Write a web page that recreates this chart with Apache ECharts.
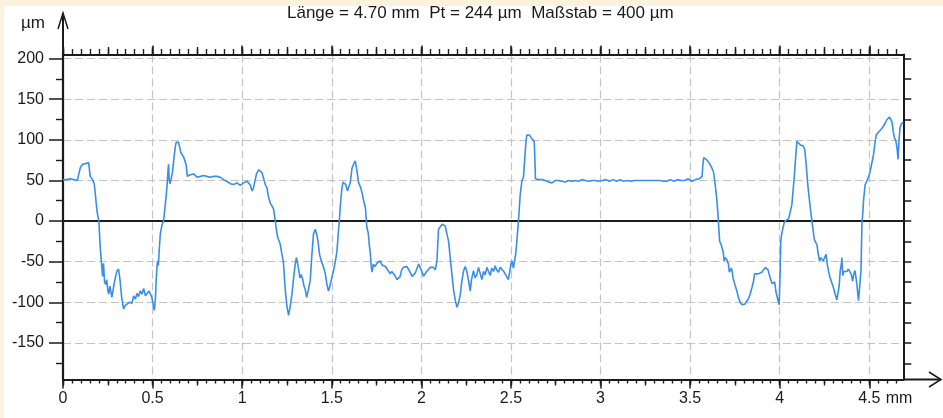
<!DOCTYPE html>
<html>
<head>
<meta charset="utf-8">
<title>Profil</title>
<script src="https://cdn.jsdelivr.net/npm/echarts@6/dist/echarts.min.js"></script>
<style>
  html, body { margin: 0; padding: 0; background: #ffffff; }
  #chart { width: 943px; height: 418px; }
</style>
</head>
<body>
<div id="chart"></div>
<script>
// Header and axis values
const titleText = 'Länge = 4.70 mm  Pt = 244 µm  Maßstab = 400 µm';
const xMax = 4.69;             // traced length shown, mm
const yMin = -195, yMax = 205; // 400 µm scale window
const xLabelTicks = [0, 0.5, 1, 1.5, 2, 2.5, 3, 3.5, 4, 4.5];
const yLabelTicks = [-150, -100, -50, 0, 50, 100, 150, 200];

// Surface profile, [position mm, height µm]
const profileA = [
  [0,51],[0.02,51],[0.04,52],[0.06,51],[0.08,50],[0.088,49],[0.097,66],[0.11,70],[0.13,71],[0.143,72],
  [0.152,55],[0.165,51],[0.175,45],[0.19,12],[0.2,0],[0.208,-33],[0.216,-55],[0.221,-68],[0.226,-52],[0.232,-75],
  [0.238,-78],[0.244,-72],[0.25,-85],[0.255,-90],[0.262,-80],[0.268,-88],[0.273,-94],[0.283,-80],[0.292,-70],[0.3,-62],
  [0.31,-59],[0.318,-72],[0.328,-95],[0.338,-108],[0.347,-104],[0.357,-102],[0.37,-100],[0.385,-101],[0.394,-92],[0.404,-96],
  [0.413,-89],[0.422,-93],[0.431,-86],[0.44,-90],[0.45,-83],[0.46,-92],[0.47,-90],[0.48,-86],[0.487,-88],[0.496,-94],
  [0.504,-104],[0.51,-110],[0.516,-95],[0.52,-73],[0.525,-55],[0.528,-49],[0.532,-55],[0.536,-40],[0.543,-16],[0.552,-5],
  [0.561,0],[0.571,20],[0.58,41],[0.586,62],[0.589,70],[0.593,50],[0.598,46],[0.604,45],[0.611,60],[0.618,75],
  [0.627,92],[0.632,97],[0.636,99],[0.645,97],[0.652,90],[0.658,84],[0.666,82],[0.673,79],[0.681,74],[0.688,68],
  [0.694,55],[0.7,53],[0.71,57],[0.72,58],[0.729,58],[0.738,56],[0.748,54],[0.758,52],[0.767,55],[0.776,54],
  [0.785,56],[0.794,58],[0.803,55],[0.812,53],[0.822,54],[0.831,53],[0.84,55],[0.85,56],[0.86,55],[0.868,57],
  [0.877,54],[0.886,52],[0.896,51],[0.905,50],[0.914,49],[0.924,48],[0.934,46],[0.943,44],[0.952,45],[0.962,45],
  [0.971,47],[0.98,46],[0.99,44]
];
const profileB = [
  [1.0,46],[1.008,47],[1.018,48],[1.028,49],[1.036,49],[1.046,44],[1.055,37],[1.062,40],[1.07,48],[1.08,58],
  [1.092,63],[1.102,62],[1.11,60],[1.12,52],[1.129,45],[1.138,41],[1.147,30],[1.157,22],[1.165,19],[1.175,15],
  [1.185,0],[1.192,-12],[1.198,-20],[1.205,-22],[1.212,-28],[1.222,-41],[1.23,-50],[1.241,-86],[1.25,-105],[1.259,-116],
  [1.266,-108],[1.278,-90],[1.287,-70],[1.296,-53],[1.303,-45],[1.309,-43],[1.316,-60],[1.322,-70],[1.33,-66],[1.338,-72],
  [1.345,-80],[1.352,-84],[1.36,-94],[1.365,-92],[1.372,-82],[1.38,-73],[1.388,-45],[1.398,-16],[1.408,-10],[1.418,-18],
  [1.425,-28],[1.432,-41],[1.44,-48],[1.448,-53],[1.456,-58],[1.464,-65],[1.473,-78],[1.482,-86],[1.49,-80],[1.5,-70],
  [1.51,-61],[1.52,-50],[1.529,-37],[1.535,-20],[1.542,0],[1.55,25],[1.557,41],[1.563,48],[1.57,50],[1.578,45],
  [1.588,37],[1.595,42],[1.603,47],[1.613,65],[1.622,70],[1.631,74],[1.636,68],[1.642,60],[1.65,47],[1.66,42],
  [1.669,35],[1.678,25],[1.688,16],[1.696,-8],[1.704,-15],[1.71,-30],[1.716,-41],[1.72,-55],[1.725,-63],[1.732,-53],
  [1.74,-56],[1.748,-54],[1.756,-51],[1.764,-53],[1.771,-49],[1.78,-54],[1.79,-53],[1.8,-56],[1.81,-55],[1.818,-62],
  [1.826,-65],[1.835,-62],[1.845,-63],[1.855,-68],[1.864,-72],[1.873,-74],[1.882,-68],[1.89,-60],[1.9,-57],[1.91,-58],
  [1.92,-56],[1.93,-60],[1.94,-64],[1.948,-68],[1.957,-70],[1.966,-64],[1.976,-58],[1.985,-53],[1.995,-51]
];
const profileC = [
  [2.003,-62],[2.012,-68],[2.02,-66],[2.03,-62],[2.04,-60],[2.05,-57],[2.058,-56],[2.068,-57],[2.078,-60],[2.087,-49],
  [2.096,-10],[2.106,-8],[2.116,-4],[2.124,-5],[2.133,-6],[2.143,-8],[2.152,-25],[2.161,-45],[2.17,-64],[2.18,-85],
  [2.19,-98],[2.199,-106],[2.208,-100],[2.218,-90],[2.226,-74],[2.236,-61],[2.245,-56],[2.254,-62],[2.264,-74],[2.273,-86],
  [2.28,-72],[2.291,-61],[2.3,-70],[2.31,-66],[2.319,-57],[2.329,-58],[2.338,-72],[2.347,-62],[2.356,-66],[2.366,-57],
  [2.375,-62],[2.384,-67],[2.393,-58],[2.403,-62],[2.412,-55],[2.42,-60],[2.43,-63],[2.44,-57],[2.45,-55],[2.46,-62],
  [2.47,-66],[2.478,-68],[2.486,-72],[2.492,-64],[2.5,-53],[2.506,-49],[2.514,-58],[2.52,-60],[2.527,-40],[2.533,-25],
  [2.542,0],[2.552,33],[2.561,49],[2.57,54],[2.575,70],[2.58,86],[2.585,100],[2.589,106],[2.595,108],[2.603,106],
  [2.612,103],[2.622,101],[2.63,98],[2.634,75],[2.637,52],[2.645,51],[2.655,51],[2.663,52],[2.672,51],[2.682,50],
  [2.692,50],[2.7,49],[2.71,48],[2.72,48],[2.729,47],[2.738,48],[2.748,50],[2.757,51],[2.766,50],[2.775,49],
  [2.784,49],[2.794,50],[2.803,48],[2.812,49],[2.822,50],[2.831,51],[2.84,49],[2.85,49],[2.86,50],[2.868,51],
  [2.878,49],[2.887,50],[2.896,51],[2.906,49],[2.915,50],[2.924,50],[2.934,49],[2.943,51],[2.952,50],[2.962,49],
  [2.971,50],[2.98,51],[2.99,49]
];
const profileD = [
  [3.0,50],[3.01,50],[3.02,49],[3.03,51],[3.04,50],[3.05,49],[3.06,50],[3.07,51],[3.08,50],[3.09,49],
  [3.1,50],[3.11,51],[3.12,50],[3.13,49],[3.14,50],[3.15,50],[3.16,51],[3.17,49],[3.18,50],[3.19,50],
  [3.2,49],[3.21,50],[3.22,51],[3.23,50],[3.24,49],[3.25,50],[3.26,51],[3.27,50],[3.28,49],[3.29,50],
  [3.3,51],[3.31,50],[3.32,49],[3.33,50],[3.34,50],[3.35,49],[3.36,48],[3.37,49],[3.38,50],[3.39,51],
  [3.4,50],[3.41,49],[3.42,50],[3.43,51],[3.44,52],[3.45,50],[3.46,49],[3.47,50],[3.48,51],[3.49,52],
  [3.5,51],[3.51,49],[3.52,50],[3.53,51],[3.54,51],[3.55,52],[3.56,50],[3.567,55],[3.571,68],[3.576,78],
  [3.582,77],[3.59,76],[3.598,74],[3.605,72],[3.612,70],[3.62,66],[3.63,61],[3.636,52],[3.64,45],[3.645,35],
  [3.65,25],[3.655,10],[3.658,0],[3.662,-15],[3.665,-25],[3.672,-28],[3.68,-30],[3.685,-38],[3.69,-49],[3.695,-45],
  [3.7,-43],[3.706,-48],[3.714,-53],[3.719,-63],[3.724,-65],[3.73,-58],[3.735,-62],[3.74,-70],[3.75,-78],[3.761,-86],
  [3.77,-94],[3.779,-100],[3.79,-103],[3.798,-104],[3.806,-102],[3.815,-100],[3.825,-96],[3.835,-90],[3.845,-82],[3.854,-74],
  [3.86,-65],[3.87,-67],[3.88,-65],[3.89,-66],[3.9,-63],[3.91,-61],[3.92,-57],[3.928,-55],[3.935,-60],[3.942,-66],
  [3.95,-72],[3.958,-77],[3.966,-78],[3.972,-75],[3.98,-88],[3.988,-95],[3.997,-103]
];
const profileE = [
  [4.003,-60],[4.006,-25],[4.012,-15],[4.017,-10],[4.024,-3],[4.03,0],[4.04,2],[4.05,3],[4.059,4],[4.068,20],
  [4.075,38],[4.081,53],[4.088,75],[4.096,98],[4.105,96],[4.114,94],[4.124,93],[4.133,92],[4.14,88],[4.148,70],
  [4.155,49],[4.163,32],[4.171,16],[4.18,0],[4.187,-12],[4.193,-22],[4.2,-26],[4.208,-29],[4.215,-40],[4.222,-49],
  [4.229,-45],[4.236,-43],[4.243,-49],[4.25,-47],[4.259,-41],[4.265,-52],[4.273,-62],[4.282,-70],[4.291,-76],[4.3,-82],
  [4.31,-90],[4.319,-97],[4.326,-98],[4.332,-80],[4.338,-61],[4.343,-55],[4.347,-45],[4.352,-67],[4.358,-62],[4.366,-60],
  [4.375,-62],[4.384,-59],[4.393,-60],[4.4,-66],[4.407,-74],[4.414,-65],[4.42,-61],[4.425,-68],[4.431,-78],[4.436,-90],
  [4.44,-98],[4.449,-100],[4.454,-60],[4.459,-4],[4.464,10],[4.468,25],[4.477,45],[4.484,48],[4.49,49],[4.497,55],
  [4.505,61],[4.515,72],[4.524,82],[4.531,95],[4.539,106],[4.55,109],[4.561,111],[4.57,114],[4.58,117],[4.59,121],
  [4.599,125],[4.606,127],[4.613,128],[4.62,126],[4.627,122],[4.634,110],[4.641,102],[4.648,99],[4.655,90],[4.661,76],
  [4.666,100],[4.672,115],[4.68,120],[4.69,121]
];

const profile = [].concat(profileA, profileB, profileC, profileD, profileE);

// Tick positions for the graduated frame
function steps(from, to, step) {
  const out = [];
  const n = Math.round((to - from) / step);
  for (let i = 0; i <= n; i++) out.push(+(from + i * step).toFixed(3));
  return out;
}
const xQuarterTicks = steps(0, 4.5, 0.25);
const xFineTicks = steps(0, 4.65, 0.05);
const yHalfTicks = steps(-175, 175, 50);
const yRightTicks = steps(-175, 200, 25);

const ink = '#1b1b1b';
const font = 'Liberation Sans, Arial, Helvetica, sans-serif';
const gridBox = { left: 63, right: 39.7, top: 54.5, bottom: 38.5 };

function tickOnlyX(gridIndex, position, values, length) {
  return {
    type: 'value', gridIndex, position, min: 0, max: xMax,
    axisLine: { show: false, onZero: false },
    axisTick: { show: true, customValues: values, length, lineStyle: { color: ink, width: 1.4 } },
    axisLabel: { show: false },
    splitLine: { show: false }
  };
}
function tickOnlyY(gridIndex, position, values, length) {
  return {
    type: 'value', gridIndex, position, min: yMin, max: yMax,
    axisLine: { show: false, onZero: false },
    axisTick: { show: values.length > 0, customValues: values, length, lineStyle: { color: ink, width: 1.4 } },
    axisLabel: { show: false },
    splitLine: { show: false }
  };
}

const dashed = { color: '#c4c4c4', width: 1.2, type: [8, 4] };

const option = {
  animation: false,
  backgroundColor: '#ffffff',
  title: {
    text: titleText,
    left: 287, top: 4.5, padding: 0,
    textStyle: { fontFamily: font, fontSize: 17, fontWeight: 'normal', color: ink }
  },
  grid: [
    Object.assign({}, gridBox),
    Object.assign({}, gridBox),
    Object.assign({}, gridBox)
  ],
  xAxis: [
    {
      type: 'value', gridIndex: 0, position: 'bottom', min: 0, max: xMax,
      axisLine: { show: true, onZero: false, lineStyle: { color: ink, width: 2 } },
      axisTick: { show: true, customValues: xLabelTicks, length: 9, lineStyle: { color: ink, width: 1.5 } },
      axisLabel: {
        customValues: xLabelTicks, margin: 11, color: ink, fontFamily: font, fontSize: 16,
        formatter: v => String(v)
      },
      splitLine: { show: true, lineStyle: dashed }
    },
    {
      type: 'value', gridIndex: 0, position: 'top', min: 0, max: xMax,
      axisLine: { show: true, onZero: false, lineStyle: { color: ink, width: 2 } },
      axisTick: { show: true, customValues: xLabelTicks, length: 9, lineStyle: { color: ink, width: 1.5 } },
      axisLabel: { show: false },
      splitLine: { show: false }
    },
    tickOnlyX(1, 'bottom', xQuarterTicks, 6),
    tickOnlyX(1, 'top', xQuarterTicks, 7.5),
    tickOnlyX(2, 'bottom', xFineTicks, 4),
    tickOnlyX(2, 'top', xFineTicks, 5.5)
  ],
  yAxis: [
    {
      type: 'value', gridIndex: 0, position: 'left', min: yMin, max: yMax,
      axisLine: { show: true, onZero: false, lineStyle: { color: ink, width: 2.2 } },
      axisTick: { show: true, customValues: yLabelTicks, length: 14, lineStyle: { color: ink, width: 1.5 } },
      axisLabel: { customValues: yLabelTicks, margin: 19, color: ink, fontFamily: font, fontSize: 16 },
      splitLine: { show: true, lineStyle: dashed }
    },
    {
      type: 'value', gridIndex: 0, position: 'right', min: yMin, max: yMax,
      axisLine: { show: true, onZero: false, lineStyle: { color: ink, width: 2 } },
      axisTick: { show: true, customValues: yRightTicks, length: 8, lineStyle: { color: ink, width: 1.5 } },
      axisLabel: { show: false },
      splitLine: { show: false }
    },
    tickOnlyY(1, 'left', yHalfTicks, 7),
    tickOnlyY(2, 'left', [], 0)
  ],
  series: [
    {
      name: 'Profil',
      type: 'line',
      xAxisIndex: 0, yAxisIndex: 0,
      data: profile,
      showSymbol: false,
      symbol: 'none',
      smooth: false,
      lineStyle: { color: '#3a8ee8', width: 1.6 },
      z: 3,
      markLine: {
        silent: true,
        symbol: ['none', 'none'],
        label: { show: false },
        lineStyle: { color: ink, width: 1.8, type: 'solid' },
        data: [{ yAxis: 0 }],
        z: 2
      }
    }
  ]
};

const chart = echarts.init(document.getElementById('chart'), null, { renderer: 'canvas' });
chart.setOption(option);

// Frame decorations placed from the axis scales: arrow heads, unit labels, page margin
const toPx = (x, y) => chart.convertToPixel({ xAxisIndex: 0, yAxisIndex: 0 }, [x, y]);
const [xLeft, yBottom] = toPx(0, yMin);
const [xRight, yTop] = toPx(xMax, yMax);
const [x45] = toPx(4.5, 0);
const paper = '#fdf2de';
const frame = { stroke: ink, lineWidth: 2, fill: null };

chart.setOption({
  graphic: [
    { type: 'rect', shape: { x: 0, y: 0, width: 943, height: 6 }, style: { fill: paper }, z: 10 },
    { type: 'rect', shape: { x: 0, y: 0, width: 4, height: 418 }, style: { fill: paper }, z: 10 },
    { type: 'line', shape: { x1: xLeft, y1: yTop, x2: xLeft, y2: 13 }, style: frame, z: 10 },
    { type: 'polyline', shape: { points: [[xLeft - 5, 29], [xLeft, 13], [xLeft + 5, 29]] }, style: { stroke: ink, lineWidth: 1.5, fill: null }, z: 10 },
    { type: 'line', shape: { x1: xRight, y1: yBottom, x2: 941, y2: yBottom }, style: frame, z: 10 },
    { type: 'polyline', shape: { points: [[929, yBottom - 7.5], [941, yBottom], [929, yBottom + 7.5]] }, style: { stroke: ink, lineWidth: 1.5, fill: null }, z: 10 },
    { type: 'text', style: { text: 'mm', x: x45 + 16.5, y: yBottom + 11, align: 'left', verticalAlign: 'top', fill: ink, font: '16px ' + font }, z: 10 },
    { type: 'text', style: { text: 'µm', x: 45, y: 23, align: 'right', verticalAlign: 'middle', fill: ink, font: '17px ' + font }, z: 10 }
  ]
});
</script>
</body>
</html>
